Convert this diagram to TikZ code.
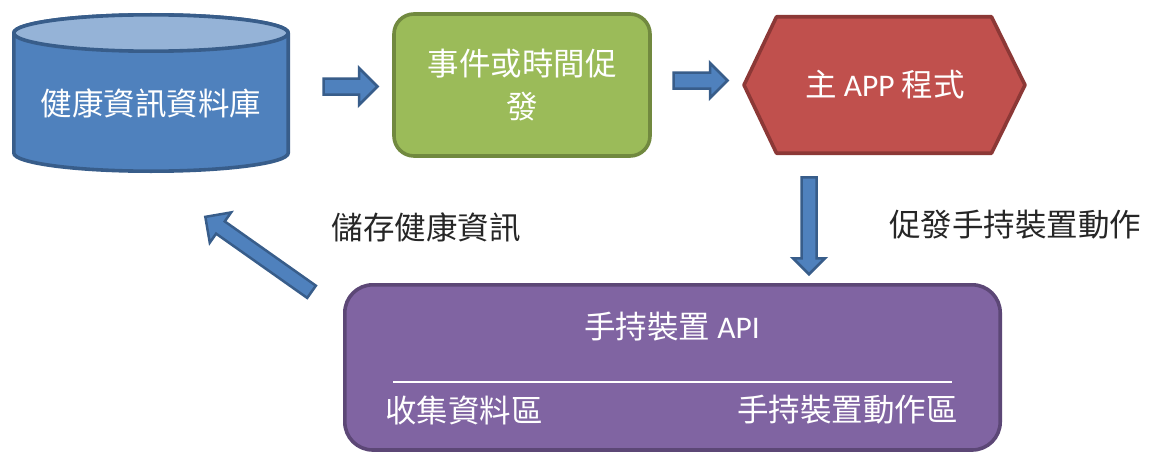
\documentclass[tikz,border=0pt]{standalone}
\usepackage{fontspec}
\setmainfont{Noto Sans CJK TC}
\newfontfamily\lat{Carlito}
\usetikzlibrary{shapes.arrows}
\definecolor{dbF}{HTML}{4F81BD}
\definecolor{dbT}{HTML}{95B3D7}
\definecolor{dbB}{HTML}{385D8A}
\definecolor{gF}{HTML}{9BBB59}
\definecolor{gB}{HTML}{71893F}
\definecolor{rF}{HTML}{C0504D}
\definecolor{rB}{HTML}{8C3836}
\definecolor{pF}{HTML}{8064A2}
\definecolor{pB}{HTML}{5C4776}
\tikzset{
  big/.style={font=\fontsize{31.5}{43}\selectfont, inner sep=0pt},
  intext/.style={big, text=white},
  outtext/.style={big, text=black!85},
  blockarrow/.style n args={3}{single arrow, draw=dbB, fill=dbF, line width=2.5pt,
    inner xsep=0pt, inner ysep=#2, minimum height=#1, minimum width=0pt,
    single arrow head extend=#3, single arrow tip angle=90,
    single arrow head indent=0pt},
  shapeline/.style={line width=3.6pt, line join=round}
}
\begin{document}
\begin{tikzpicture}[x=1pt,y=-1pt]
\useasboundingbox (0,0) rectangle (1158,452);
\fill[white] (0,0) rectangle (1158,452);

% database cylinder
\draw[shapeline, draw=dbB, fill=dbF] (13.8,33) -- (13.8,153)
  arc[start angle=180, end angle=360, x radius=137.2pt, y radius=18.2pt]
  -- (288.2,33)
  arc[start angle=0, end angle=180, x radius=137.2pt, y radius=18.2pt] -- cycle;
\draw[shapeline, draw=dbB, fill=dbT] (151,33) ellipse[x radius=137.2pt, y radius=18.2pt];
\node[intext] (db) at (151,103) {健康資訊資料庫};

% trigger box
\node[shapeline, draw=gB, fill=gF, rounded corners=20pt, minimum width=256pt,
  minimum height=142pt, intext, align=center] (trig) at (522,85)
  {事件或時間促\\發};

% main app hexagon
\draw[shapeline, draw=rB, fill=rF] (744,85) -- (776.5,16.8) -- (991.5,16.8)
  -- (1025,85) -- (991.5,153.2) -- (776.5,153.2) -- cycle;
\node[intext] (app) at (885,85) {主 {\lat APP} 程式};

% handheld API box
\draw[shapeline, draw=pB, fill=pF, rounded corners=28pt] (344.8,284.8) rectangle (1000.2,450);
\node[intext] (api) at (672,327) {手持裝置 {\lat API}};
\coordinate (l1) at (393,382);
\coordinate (l2) at (952,382);
\draw[white, line width=2pt] (l1) -- (l2);
\node[intext, anchor=west] (collect) at (385,410) {收集資料區};
\node[intext, anchor=east] (act) at (958,410) {手持裝置動作區};

% block arrows
\node[blockarrow={54pt}{6.75pt}{10.5pt}] (ar1) at (346.5,86.5) {};
\node[blockarrow={54pt}{6.75pt}{9.5pt}] (ar2) at (696.5,80.5) {};
\node[blockarrow={97pt}{6.25pt}{8.5pt}, rotate=-90] (ar3) at (809,222) {};
\node[blockarrow={130pt}{6.25pt}{11pt}, rotate=144.8] (ar4) at (261.5,256.5) {};

% labels
\node[outtext] (lbl1) at (1015,225) {促發手持裝置動作};
\node[outtext] (lbl2) at (426,227) {儲存健康資訊};
\end{tikzpicture}
\end{document}
